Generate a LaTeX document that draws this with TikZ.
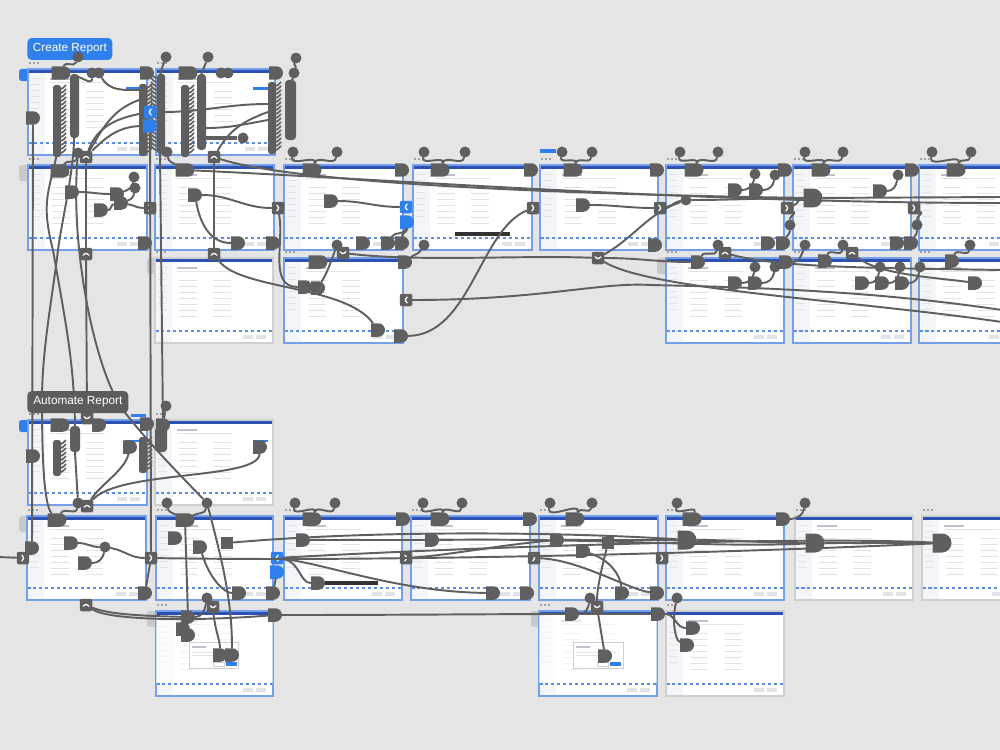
\documentclass[tikz,border=0pt]{standalone}
\usepackage{fontspec}
\setmainfont{Liberation Sans}
\usetikzlibrary{shapes.misc}
\definecolor{bgc}{HTML}{E5E5E5}
\definecolor{cd}{HTML}{5F5F5F}
\definecolor{hdr}{HTML}{2D50B4}
\definecolor{side}{HTML}{F3F5F9}
\definecolor{bb}{HTML}{74A0EA}
\definecolor{gb}{HTML}{CFCFCF}
\definecolor{txt}{HTML}{E0E3E8}
\definecolor{txt2}{HTML}{BCC1CB}
\definecolor{cblue}{HTML}{2F80ED}
\definecolor{dblue}{HTML}{5B8EE6}
\definecolor{tabg}{HTML}{C9C9C9}
\definecolor{lgray}{HTML}{5C5C5C}

\newcommand{\frm}[5]{%
 \fill[white] (#1,#2) rectangle ++(#3,#4);
 \fill[hdr] (#1,#2) rectangle ++(#3,4);
 \fill[side] (#1,#2+4) rectangle ++(17,#4-4);
 \foreach \k in {0,...,7} \fill[txt] (#1+3,#2+9+\k*6) rectangle ++(9,1.2);
 \fill[txt2] (#1+22,#2+9) rectangle ++(20,1.6);
 \fill[txt] (#1+22,#2+13) rectangle ++(55,1);
 \foreach \k in {0,...,6} {\fill[txt] (#1+24,#2+22+\k*6) rectangle ++(18,1.2);
   \fill[txt] (#1+58,#2+22+\k*6) rectangle ++(18,1.2);}
 \fill[txt] (#1+#3-30,#2+#4-8) rectangle ++(10,4);
 \fill[txt] (#1+#3-17,#2+#4-8) rectangle ++(10,4);
 \draw[dblue, line width=0.6pt, dash pattern=on 2pt off 1.4pt] (#1,#2+#4-12) -- ++(#3,0);
 \draw[#5, line width=0.7pt] (#1,#2) rectangle ++(#3,#4);
 \foreach \k in {0,1,2} \fill[cd] (#1+2+\k*4,#2-6) circle (0.55pt);
}
\newcommand{\stk}[3]{%
 \fill[cd, rounded corners=1.5pt] (#1,#2) rectangle ++(8,4*#3+4);
 \foreach \k in {1,...,#3}{\draw[cd, line width=1pt] (#1+6,#2+4*\k) .. controls (#1+10,#2+4*\k) and (#1+11,#2+4*\k-2) .. (#1+13,#2+4*\k-4);}}
\newcommand{\stkL}[3]{%
 \fill[cd, rounded corners=1.5pt] (#1,#2) rectangle ++(8,4*#3+4);
 \foreach \k in {1,...,#3}{\draw[cd, line width=1pt] (#1+1,#2+4*\k) .. controls (#1-3,#2+4*\k) and (#1-4,#2+4*\k-2) .. (#1-6,#2+4*\k-4);}}

\begin{document}
\begin{tikzpicture}[x=0.02cm,y=-0.02cm,
 conn/.style={draw=cd, line width=1.1pt, line cap=round},
 blob/.style={rounded rectangle, rounded rectangle west arc=none, fill=cd, draw=none, minimum height=0.27cm, minimum width=0.28cm, inner sep=0pt},
 blobw/.style={blob, minimum width=0.38cm},
 blobt/.style={blob, minimum height=0.38cm, minimum width=0.3cm},
 blobb/.style={blob, fill=cblue},
 sqn/.style={rectangle, fill=cd, minimum size=0.25cm, inner sep=0pt},
 dotn/.style={circle, fill=cd, minimum size=0.22cm, inner sep=0pt},
 chv/.style={rectangle, rounded corners=1.2pt, fill=cd, minimum size=0.25cm, inner sep=0pt},
 chR/.style={chv, path picture={\draw[white, line width=0.75pt, line cap=round] ([xshift=-0.7pt,yshift=1.6pt]path picture bounding box.center) -- ++(1.5pt,-1.6pt) -- ++(-1.5pt,-1.6pt);}},
 chL/.style={chv, path picture={\draw[white, line width=0.75pt, line cap=round] ([xshift=0.7pt,yshift=1.6pt]path picture bounding box.center) -- ++(-1.5pt,-1.6pt) -- ++(1.5pt,-1.6pt);}},
 chU/.style={chv, path picture={\draw[white, line width=0.75pt, line cap=round] ([xshift=-1.6pt,yshift=-0.7pt]path picture bounding box.center) -- ++(1.6pt,1.5pt) -- ++(1.6pt,-1.5pt);}},
 chD/.style={chv, path picture={\draw[white, line width=0.75pt, line cap=round] ([xshift=-1.6pt,yshift=0.7pt]path picture bounding box.center) -- ++(1.6pt,-1.5pt) -- ++(1.6pt,1.5pt);}},
 chLb/.style={chL, fill=cblue},
 lbl/.style={rectangle, rounded corners=2.5pt, text=white, font=\fontsize{6.7}{8}\selectfont, minimum height=0.44cm, inner sep=0pt, anchor=west}]
\useasboundingbox (0,0) rectangle (1000,750);
\clip (0,0) rectangle (1000,750);
\fill[bgc] (0,0) rectangle (1000,750);

% tabs
\fill[cblue, rounded corners=1.5pt] (19,69) rectangle (30,81);
\fill[cblue, rounded corners=1.5pt] (19,420) rectangle (30,432);
\fill[tabg, rounded corners=1.5pt] (19,165) rectangle (30,181);
\fill[tabg, rounded corners=1.5pt] (147,258) rectangle (158,274);
\fill[tabg, rounded corners=1.5pt] (657,258) rectangle (668,274);
\fill[tabg, rounded corners=1.5pt] (19,516) rectangle (30,532);
\fill[tabg, rounded corners=1.5pt] (147,611) rectangle (158,627);
\fill[tabg, rounded corners=1.5pt] (531,611) rectangle (542,627);
\fill[cblue] (540,149) rectangle (556,153);
\fill[cblue] (131,414) rectangle (146,417);

% frames
\frm{28}{69}{119}{86}{bb}
\frm{156}{69}{119}{86}{bb}
\frm{28}{165}{119}{85}{bb}
\frm{155}{165}{119}{85}{bb}
\frm{284}{165}{119}{85}{bb}
\frm{413}{165}{119}{85}{bb}
\frm{540}{165}{118}{85}{bb}
\frm{666}{165}{118}{85}{bb}
\frm{793}{165}{118}{85}{bb}
\frm{919}{165}{100}{85}{bb}
\frm{155}{258}{118}{85}{gb}
\frm{284}{258}{119}{85}{bb}
\frm{666}{258}{118}{85}{bb}
\frm{793}{258}{118}{85}{bb}
\frm{919}{258}{100}{85}{bb}
\frm{28}{420}{119}{85}{bb}
\frm{155}{420}{118}{85}{gb}
\frm{27}{516}{119}{84}{bb}
\frm{156}{516}{117}{84}{bb}
\frm{284}{516}{118}{84}{bb}
\frm{411}{516}{119}{84}{bb}
\frm{539}{516}{119}{84}{bb}
\frm{666}{516}{118}{84}{bb}
\frm{795}{516}{118}{84}{gb}
\frm{922}{516}{100}{84}{gb}
\frm{156}{611}{117}{85}{bb}
\frm{539}{611}{118}{85}{bb}
\frm{666}{611}{118}{85}{gb}

% modal dialogs
\fill[white, opacity=0.6] (156,615) rectangle (273,683);
\fill[white, opacity=0.6] (539,615) rectangle (657,683);
\filldraw[fill=white, draw=gb, line width=0.4pt] (189,642) rectangle (238,668);
\fill[txt2] (192,646) rectangle ++(14,1.5);
\fill[txt] (192,652) rectangle ++(40,1);
\fill[txt] (192,655) rectangle ++(34,1);
\fill[cblue] (226,662) rectangle (237,666);
\draw[gb, line width=0.4pt] (213,662) rectangle (224,666);
\filldraw[fill=white, draw=gb, line width=0.4pt] (573,642) rectangle (623,668);
\fill[txt2] (576,646) rectangle ++(14,1.5);
\fill[txt] (576,652) rectangle ++(40,1);
\fill[txt] (576,655) rectangle ++(34,1);
\fill[cblue] (610,662) rectangle (621,666);
\draw[gb, line width=0.4pt] (597,662) rectangle (608,666);

% small blue buttons and toasts
\fill[cblue] (126,87) rectangle (140,90);
\fill[cblue] (253,87) rectangle (268,90);
\fill[cblue] (125,440) rectangle (139,442);
\fill[cblue] (253,440) rectangle (268,442);
\fill[black!80] (455,232) rectangle (510,236);
\fill[black!80] (325,581) rectangle (378,585);

% ribbed stacks
\stk{53}{85}{17}
\fill[cd, rounded corners=2pt] (70,74) rectangle (79,138);
\stk{139}{84}{17}
\stkL{157}{74}{19}
\stk{181}{85}{17}
\fill[cd, rounded corners=2pt] (197,74) rectangle (206,150);
\stk{268}{82}{17}
\fill[cd, rounded corners=2pt] (285,80) rectangle (296,140);
\stk{53}{440}{8}
\fill[cd, rounded corners=2pt] (70,426) rectangle (80,452);
\stk{139}{437}{8}
\fill[cd, rounded corners=2pt] (155,427) rectangle (167,452);

% ===== labels
\node[lbl, fill=cblue, minimum width=1.7cm] (lcreate) at (27,49) {Create Report};

% ===== section 1 nodes
\node[dotn] (t1) at (78,57) {};
\node[dotn] (t2) at (166,57) {};
\node[dotn] (t3) at (208,57) {};
\node[dotn] (t4) at (296,58) {};
\node[blobw] (a1) at (61,73) {};
\node[dotn] (a2) at (92,73) {};
\node[dotn] (a3) at (99,73) {};
\node[blob] (a4) at (147,73) {};
\node[blobw] (a5) at (188,73) {};
\node[dotn] (a6) at (221,73) {};
\node[dotn] (a7) at (228,73) {};
\node[blob] (a8) at (276,73) {};
\node[dotn] (a9) at (294,73) {};
\node[blob] (a10) at (33,118) {};
\node[chLb] (a11) at (150,112) {};
\node[blobb] (a12) at (150,126) {};
\node[dotn] (a13) at (243,138) {};
\coordinate (a14) at (199,138);
\node[dotn] (a15) at (78,153) {};
\node[dotn] (a16) at (167,152) {};
\node[chU] (u1) at (86,157) {};
\node[chU] (u2) at (214,157) {};
\coordinate (s2t) at (74,76);
\coordinate (s4t) at (160,76);
\coordinate (s6t) at (201,76);
\coordinate (s8t) at (290,82);
\coordinate (s3m) at (139,100);
\coordinate (s3n) at (139,90);
\coordinate (s7m) at (268,112);
\coordinate (s4m) at (163,112);
\coordinate (s7a) at (268,104);
\coordinate (s6m) at (206,128);
\coordinate (s7b) at (268,120);
\coordinate (s1b) at (57,153);
\coordinate (s2b) at (74,138);
\coordinate (s4b) at (160,153);
\coordinate (s9t) at (75,426);
\coordinate (s9b) at (75,452);

% ===== row 2 nodes
\node[blobw] (r1) at (60,171) {};
\node[blob] (r2) at (72,192) {};
\node[blob] (r3) at (101,210) {};
\node[blob] (r4) at (117,194) {};
\node[blob] (r5) at (121,203) {};
\node[dotn] (r6) at (134,177) {};
\node[dotn] (r7) at (135,188) {};
\node[chR] (g1) at (150,208) {};
\node[blob] (r8) at (145,243) {};
\node[chU] (u3) at (86,254) {};
\node[blobw] (r9) at (185,170) {};
\node[blob] (r11) at (195,195) {};
\node[blob] (r12) at (238,243) {};
\node[blob] (r13) at (273,243) {};
\node[chR] (g2) at (278,208) {};
\node[chU] (u4) at (214,254) {};
\node[dotn] (r14) at (293,152) {};
\node[dotn] (r15) at (337,152) {};
\node[blobw] (r16) at (312,170) {};
\node[blob] (r17) at (402,170) {};
\node[blob] (r18) at (331,201) {};
\node[chLb] (g3) at (406,207) {};
\node[blobb] (r19) at (407,222) {};
\node[blob] (r20) at (363,243) {};
\node[blob] (r21) at (388,243) {};
\node[blob] (r22) at (402,243) {};
\node[dotn] (r23) at (337,245) {};
\node[chD] (v1c) at (343,253) {};
\node[dotn] (r24) at (424,152) {};
\node[dotn] (r25) at (465,152) {};
\node[blobw] (r26) at (440,170) {};
\node[blob] (r27) at (531,170) {};
\node[dotn] (r28) at (424,245) {};
\node[chR] (g4) at (533,208) {};
\node[dotn] (r29) at (562,152) {};
\node[dotn] (r30) at (592,152) {};
\node[blobw] (r31) at (573,170) {};
\node[blob] (r32) at (657,170) {};
\node[blob] (r33) at (583,205) {};
\node[blob] (r34) at (655,245) {};
\node[chD] (v2c) at (598,258) {};
\node[chR] (g5) at (660,208) {};
\node[dotn] (r35) at (680,152) {};
\node[dotn] (r36) at (718,152) {};
\node[dotn] (r37) at (686,200) {};
\node[blobw] (r38) at (694,170) {};
\node[blob] (r39) at (785,170) {};
\node[blob] (r40) at (735,190) {};
\node[blob] (r41) at (756,190) {};
\node[dotn] (r42) at (755,174) {};
\node[dotn] (r43) at (775,175) {};
\node[chR] (g6) at (787,208) {};
\node[dotn] (r44) at (790,225) {};
\node[blob] (r45) at (768,243) {};
\node[blob] (r46) at (783,243) {};
\node[dotn] (r47) at (805,152) {};
\node[dotn] (r48) at (843,152) {};
\node[blobw] (r49) at (821,170) {};
\node[blob] (r50) at (912,170) {};
\node[blobt] (r51) at (813,198) {};
\node[blob] (r52) at (880,191) {};
\node[dotn] (r53) at (898,175) {};
\node[chR] (g7) at (914,208) {};
\node[dotn] (r54) at (917,225) {};
\node[blob] (r55) at (897,243) {};
\node[blob] (r56) at (911,243) {};
\node[dotn] (r57) at (932,152) {};
\node[dotn] (r58) at (971,152) {};
\node[blobw] (r59) at (956,170) {};
\coordinate (e2) at (1002,197);
\coordinate (e2b) at (1002,203);

% ===== row 3 nodes
\node[blobw] (q1) at (318,262) {};
\node[blob] (q2) at (405,262) {};
\node[blob] (q3) at (305,287) {};
\node[blob] (q4) at (318,288) {};
\node[chL] (q5) at (406,300) {};
\node[blob] (q7) at (378,330) {};
\node[blob] (q8) at (401,336) {};
\node[blob] (q10) at (698,262) {};
\node[dotn] (q11) at (718,245) {};
\node[chU] (u5) at (725,253) {};
\node[blob] (q12) at (735,283) {};
\node[blob] (q13) at (755,283) {};
\node[dotn] (q14) at (755,267) {};
\node[dotn] (q15) at (775,267) {};
\node[blob] (q16) at (786,262) {};
\node[dotn] (q17) at (805,245) {};
\node[blob] (q18) at (825,261) {};
\node[dotn] (q19) at (843,245) {};
\node[chU] (u6) at (852,253) {};
\node[blob] (q21) at (862,283) {};
\node[blob] (q22) at (882,283) {};
\node[blob] (q23) at (902,283) {};
\node[dotn] (q24) at (880,267) {};
\node[dotn] (q25) at (900,267) {};
\node[dotn] (q26) at (920,267) {};
\node[blob] (q27) at (952,261) {};
\node[dotn] (q28) at (970,245) {};
\node[blob] (q20) at (975,283) {};
\coordinate (e3) at (1002,270);
\coordinate (e4) at (1002,310);
\coordinate (e5) at (1002,322);

% ===== automate section nodes
\node[chD] (v3) at (87,418) {};
\node[blobw] (p1) at (60,425) {};
\node[blob] (p3) at (99,425) {};
\node[blob] (p4) at (147,424) {};
\node[dotn] (p5) at (166,406) {};
\node[blob] (p6) at (163,425) {};
\node[blob] (p7) at (130,447) {};
\node[blob] (p8) at (33,456) {};
\node[blob] (p9) at (260,447) {};
\node[dotn] (p10) at (78,503) {};
\node[chU] (u7) at (87,506) {};
\node[dotn] (p11) at (167,503) {};
\node[dotn] (p12) at (207,503) {};
\coordinate (e0) at (-2,557);
\node[chR] (h1) at (23,558) {};
\node[blob] (v1) at (32,548) {};
\node[blobw] (w1) at (57,520) {};
\node[blob] (w2) at (71,543) {};
\node[blob] (w3) at (85,563) {};
\node[dotn] (w4) at (105,547) {};
\node[chR] (g8) at (151,558) {};
\node[blob] (w5) at (145,593) {};
\node[chU] (u8) at (86,605) {};
\node[blobw] (w6) at (185,520) {};
\node[blob] (w7) at (175,538) {};
\node[blob] (w8) at (200,547) {};
\node[sqn] (w9) at (227,543) {};
\node[blob] (w10) at (239,593) {};
\node[blob] (w11) at (273,593) {};
\node[chLb] (g9) at (277,558) {};
\node[blobb] (w12) at (277,572) {};
\node[chD] (v4) at (213,607) {};
\node[blob] (w13) at (188,617) {};
\node[dotn] (w14) at (207,598) {};
\node[blob] (w15) at (275,615) {};
\node[dotn] (w16) at (295,503) {};
\node[dotn] (w17) at (335,503) {};
\node[blobw] (w18) at (312,519) {};
\node[blob] (w19) at (403,519) {};
\node[blob] (w20) at (303,540) {};
\node[blob] (w21) at (318,583) {};
\node[chR] (g10) at (406,558) {};
\node[dotn] (w22) at (423,503) {};
\node[dotn] (w23) at (462,503) {};
\node[blobw] (w24) at (440,519) {};
\node[blob] (w25) at (432,540) {};
\node[blob] (w26) at (493,593) {};
\node[blob] (w27) at (527,593) {};
\node[chR] (g11) at (534,558) {};
\node[blob] (w28) at (530,519) {};
\node[dotn] (w29) at (550,503) {};
\node[dotn] (w30) at (592,503) {};
\node[blobw] (w31) at (575,519) {};
\node[blob] (w32) at (557,540) {};
\node[blob] (w33) at (583,551) {};
\node[sqn] (w34) at (608,543) {};
\node[blob] (w35) at (622,593) {};
\node[blob] (w36) at (657,593) {};
\node[chR] (g12) at (662,558) {};
\node[dotn] (w37) at (590,598) {};
\node[chD] (v5) at (597,607) {};
\node[dotn] (w39) at (677,503) {};
\node[blobt] (w40) at (687,540) {};
\node[blobw] (w46) at (692,519) {};
\node[blob] (w41) at (783,519) {};
\node[dotn] (w42) at (805,503) {};
\node[blobt] (w43) at (815,543) {};
\node[blobt] (w44) at (942,543) {};
\node[dotn] (w45) at (677,598) {};
\node[blob] (x1) at (183,629) {};
\node[blob] (x2) at (188,635) {};
\node[blob] (x3) at (220,655) {};
\node[blob] (x4) at (232,655) {};
\node[blob] (x5) at (572,614) {};
\node[blob] (x6) at (658,614) {};
\node[blob] (x7) at (605,656) {};
\node[blob] (x8) at (693,628) {};
\node[blob] (x9) at (687,645) {};

% ===== connectors: section 1
\draw[conn] (t1) to[out=-110,in=70] (a1);
\draw[conn] (t2) to[out=-110,in=80] (s4t);
\draw[conn] (t3) to[out=-110,in=80] (s6t);
\draw[conn] (t4) to[out=-110,in=70] (a9);
\draw[conn] (a9) to[out=-100,in=80] (s8t);
\draw[conn] (a3) to[out=-60,in=180] (s3n);
\draw[conn] (a2) to[out=-90,in=0] (s2t);
\draw[conn] (u1) to[out=70,in=190] (a11);
\draw[conn] (u1) to[out=60,in=200] (s3m);
\draw[conn] (u1) to[out=45,in=180] (a12);
\draw[conn] (u2) to[out=60,in=200] (s7m);
\draw[conn] (s4m) to[out=0,in=180] (s7a);
\draw[conn] (s6m) to[out=0,in=190] (s7b);
\draw[cd, line width=2.5pt] (a14) -- (a13);
\draw[conn] (a10) -- (v1);
\draw[conn] (a12) -- (g8);
\draw[conn] (s4b) -- (p6);
\draw[conn] (u1) -- (u3);
\draw[conn] (u2) -- (u4);
\draw[conn] (u3) -- (v3);
\draw[conn] (s1b) .. controls (50,190) and (40,200) .. (53,250) .. controls (65,320) and (74,360) .. (s9t);
\draw[conn] (s2b) .. controls (74,170) and (62,220) .. (58,250) .. controls (52,300) and (42,350) .. (42,400) .. controls (42,470) and (45,505) .. (w1);
\draw[conn] (a15) .. controls (70,250) and (95,370) .. (123,410) .. controls (150,445) and (185,480) .. (p12);

% row 2
\draw[conn] (a15) to[out=-100,in=60] (r1);
\draw[conn] (r2) to[out=0,in=180] (r4);
\draw[conn] (r3) to[out=0,in=190] (r5);
\draw[conn] (r4) to[out=20,in=-100] (r6);
\draw[conn] (r5) to[out=20,in=-100] (r7);
\draw[conn] (r5) to[out=-10,in=180] (g1);
\draw[conn] (a16) to[out=-80,in=150] (r9);
\draw[conn] (r11) to[out=0,in=180] (g2);
\draw[conn] (r11) to[out=-80,in=180] (r12);
\draw[conn] (r14) to[out=-100,in=70] (r16);
\draw[conn] (r15) to[out=-100,in=70] (r16);
\draw[conn] (r18) to[out=0,in=180] (g3);
\draw[conn] (r19) to[out=-90,in=90] (r22);
\draw[conn] (r21) to[out=60,in=-100] (r19);
\draw[conn] (r23) to[out=-110,in=60] (q4);
\draw[conn] (g2) to[out=-80,in=180] (q3);
\draw[conn] (r24) to[out=-100,in=70] (r26);
\draw[conn] (r25) to[out=-100,in=70] (r26);
\draw[conn] (r28) to[out=-120,in=40] (q2);
\draw[conn] (r29) to[out=-100,in=70] (r31);
\draw[conn] (r30) to[out=-100,in=70] (r31);
\draw[conn] (r33) to[out=0,in=180] (g5);
\draw[conn] (v2c) to[out=30,in=200] (r37);
\draw[conn] (g5) to[out=10,in=190] (r37);
\draw[conn] (r37) to[out=0,in=180] (r51);
\draw[conn] (r35) to[out=-100,in=70] (r38);
\draw[conn] (r36) to[out=-100,in=70] (r38);
\draw[conn] (r40) to[out=0,in=-100] (r42);
\draw[conn] (r41) to[out=0,in=-100] (r43);
\draw[conn] (g6) to[out=-30,in=90] (r44);
\draw[conn] (r44) to[out=-90,in=60] (r46);
\draw[conn] (g6) to[out=20,in=180] (r51);
\draw[conn] (r47) to[out=-100,in=70] (r49);
\draw[conn] (r48) to[out=-100,in=70] (r49);
\draw[conn] (r52) to[out=0,in=-100] (r53);
\draw[conn] (g7) to[out=-30,in=90] (r54);
\draw[conn] (r54) to[out=-90,in=60] (r56);
\draw[conn] (r57) to[out=-100,in=70] (r59);
\draw[conn] (r58) to[out=-100,in=70] (r59);
\draw[conn] (u2) .. controls (300,185) and (600,195) .. (r51);
\draw[conn] (r51) -- (e2);
\draw[conn] (r9) .. controls (400,180) and (700,203) .. (e2b);

% row 3
\draw[conn] (u4) .. controls (240,290) and (345,285) .. (q7);
\draw[conn] (q8) .. controls (470,335) and (480,230) .. (g4);
\draw[conn] (q5) .. controls (540,300) and (600,282) .. (650,285) .. controls (800,288) and (900,295) .. (e4);
\draw[conn] (v2c) .. controls (650,290) and (850,300) .. (e5);
\draw[conn] (v1c) .. controls (420,262) and (520,255) .. (v2c);
\draw[conn] (v2c) to[out=0,in=180] (q10);
\draw[conn] (q11) to[out=-100,in=60] (q10);
\draw[conn] (q12) to[out=0,in=-100] (q14);
\draw[conn] (q13) to[out=0,in=-100] (q15);
\draw[conn] (u5) .. controls (780,268) and (880,268) .. (e3);
\draw[conn] (q17) to[out=-110,in=0] (q16);
\draw[conn] (q19) to[out=-100,in=70] (q18);
\draw[conn] (u6) .. controls (880,275) and (940,278) .. (q20);
\draw[conn] (q21) to[out=0,in=-100] (q24);
\draw[conn] (q22) to[out=0,in=-100] (q25);
\draw[conn] (q23) to[out=0,in=-100] (q26);
\draw[conn] (q28) to[out=-100,in=70] (q27);

% automate rows
\draw[conn] (p5) -- (p6);
\draw[conn] (s9b) -- (p10);
\draw[conn] (p7) .. controls (125,470) and (100,485) .. (u7);
\draw[conn] (p9) .. controls (258,480) and (120,470) .. (u7);
\draw[conn] (p10) to[out=-100,in=60] (w1);
\draw[conn] (p11) to[out=-80,in=150] (w6);
\draw[conn] (p12) to[out=-100,in=30] (w6);
\draw[conn] (e0) -- (h1);
\draw[conn] (w2) to[out=0,in=180] (w4);
\draw[conn] (w3) to[out=0,in=-100] (w4);
\draw[conn] (w4) to[out=-10,in=180] (g8);
\draw[conn] (g8) -- (w5);
\draw[conn] (u8) .. controls (110,615) and (150,616) .. (w13);
\draw[conn] (u8) .. controls (110,621) and (200,621) .. (w15);
\draw[conn] (w15) .. controls (400,615) and (500,614) .. (x5);
\draw[conn] (w14) to[out=-100,in=0] (w13);
\draw[conn] (w6) -- (w13);
\draw[conn] (w13) -- (x1);
\draw[conn] (v4) .. controls (215,630) and (220,640) .. (x3);
\draw[conn] (p12) .. controls (222,560) and (232,600) .. (x4);
\draw[conn] (w8) .. controls (210,580) and (225,593) .. (w10);
\draw[conn] (w12) -- (w11);
\draw[conn] (g9) .. controls (300,562) and (300,583) .. (w21);
\draw[conn] (w16) to[out=-100,in=70] (w18);
\draw[conn] (w17) to[out=-100,in=70] (w18);
\draw[conn] (w22) to[out=-100,in=70] (w24);
\draw[conn] (w23) to[out=-100,in=70] (w24);
\draw[conn] (w29) to[out=-100,in=70] (w31);
\draw[conn] (w30) to[out=-100,in=70] (w31);
\draw[conn] (w39) to[out=-100,in=70] (w46);
\draw[conn] (w42) to[out=-100,in=0] (w41);
\draw[conn] (w9) .. controls (400,528) and (600,534) .. (w40);
\draw[conn] (w20) to[out=0,in=180] (w25);
\draw[conn] (w25) .. controls (600,538) and (720,548) .. (w43);
\draw[conn] (g9) .. controls (450,548) and (800,536) .. (w44);
\draw[conn] (g8) .. controls (400,562) and (750,552) .. (w44);
\draw[conn] (g9) .. controls (330,565) and (400,592) .. (w26);
\draw[conn] (w40) to[out=0,in=180] (w43);
\draw[conn] (w43) to[out=0,in=180] (w44);
\draw[conn] (w32) to[out=0,in=180] (w40);
\draw[conn] (g10) .. controls (450,555) and (500,545) .. (w32);
\draw[conn] (w33) .. controls (610,560) and (620,575) .. (w35);
\draw[conn] (g11) .. controls (580,560) and (630,590) .. (w36);
\draw[conn] (w34) .. controls (600,575) and (597,590) .. (v5);
\draw[conn] (v5) -- (x7);
\draw[conn] (w37) to[out=-100,in=0] (x5);
\draw[conn] (x5) -- (x6);
\draw[conn] (x6) to[out=0,in=180] (x8);
\draw[conn] (w45) .. controls (672,620) and (675,640) .. (x9);

\node[lbl, fill=lgray, minimum width=2.02cm] (lauto) at (27,402) {Automate Report};
\end{tikzpicture}
\end{document}
